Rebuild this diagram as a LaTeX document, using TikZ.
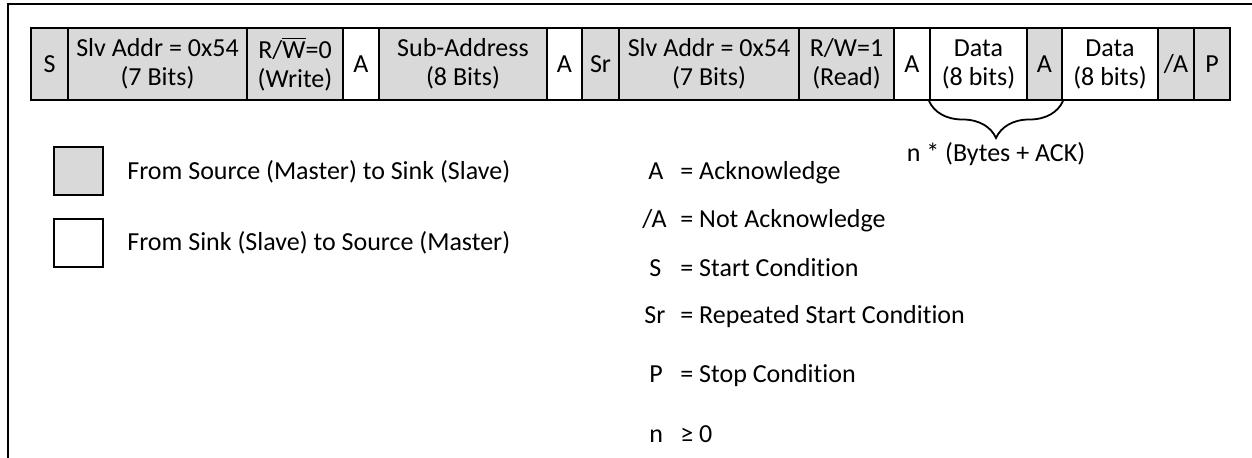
\documentclass[tikz,border=0pt]{standalone}
\usepackage{fontspec}
\setmainfont{Carlito}[Ligatures=NoCommon]
\usetikzlibrary{decorations.pathreplacing}
\definecolor{boxgray}{HTML}{D9D9D9}
\tikzset{
  cell/.style={draw, line width=1pt, minimum height=36pt, inner sep=0pt, align=center,
    font=\fontsize{13}{14.5}\selectfont},
  gcell/.style={cell, fill=boxgray},
  wcell/.style={cell, fill=white},
  legtxt/.style={inner sep=0pt, font=\fontsize{13}{15}\selectfont},
  legbox/.style={draw, line width=1pt, minimum width=24.5pt, minimum height=24pt, inner sep=0pt},
}
\begin{document}
\begin{tikzpicture}[x=0.5pt,y=-0.5pt]
\useasboundingbox (0,0) rectangle (1252,458);
% frame
\coordinate (fbl) at (7.5,458);
\coordinate (ftl) at (7.5,4.5);
\coordinate (ftr) at (1252,4.5);
\draw[line width=1pt] (fbl) -- (ftl) -- (ftr);
% bar cells
\node[gcell, minimum width=18.5pt] (c1) at (49.5,64) {S};
\node[gcell, minimum width=89.5pt] (c2) at (157.5,64) {Slv Addr = 0x54\\(7 Bits)};
\node[gcell, minimum width=48pt] (c3) at (295,64) {R/$\overline{\mbox{W}}$=0\\(Write)};
\node[wcell, minimum width=18pt] (c4) at (361,64) {A};
\node[gcell, minimum width=84pt] (c5) at (463,64) {Sub-Address\\(8 Bits)};
\node[wcell, minimum width=17.5pt] (c6) at (564.5,64) {A};
\node[gcell, minimum width=18.5pt] (c7) at (600.5,64) {Sr};
\node[gcell, minimum width=90pt] (c8) at (709,64) {Slv Addr = 0x54\\(7 Bits)};
\node[gcell, minimum width=47.5pt] (c9) at (846.5,64) {R/W=1\\(Read)};
\node[wcell, minimum width=18pt] (c10) at (912,64) {A};
\node[wcell, minimum width=48.5pt] (c11) at (978.5,64) {Data\\(8 bits)};
\node[gcell, minimum width=17.5pt] (c12) at (1044.5,64) {A};
\node[wcell, minimum width=48pt] (c13) at (1110,64) {Data\\(8 bits)};
\node[gcell, minimum width=18pt] (c14) at (1176,64) {/A};
\node[gcell, minimum width=18pt] (c15) at (1212,64) {P};
% brace
\draw[line width=0.9pt, decorate, decoration={brace, mirror, amplitude=18.5pt}]
  (c11.south west) -- (c12.south east);
\node[legtxt, anchor=base] (nb) at (996,162) {n * (Bytes + ACK)};
% legend boxes
\node[legbox, fill=boxgray] (lg) at (78.5,171.5) {};
\node[legbox, fill=white] (lw) at (78.5,243) {};
\node[legtxt, anchor=west] (lgt) at (127,172) {From Source (Master) to Sink (Slave)};
\node[legtxt, anchor=west] (lwt) at (127,243) {From Sink (Slave) to Source (Master)};
% abbreviations
\node[legtxt, anchor=base west] (k1) at (648,180) {A};
\node[legtxt, anchor=base west] (v1) at (680,180) {= Acknowledge};
\node[legtxt, anchor=base west] (k2) at (642,228) {/A};
\node[legtxt, anchor=base west] (v2) at (680,228) {= Not Acknowledge};
\node[legtxt, anchor=base west] (k3) at (649,277) {S};
\node[legtxt, anchor=base west] (v3) at (680,277) {= Start Condition};
\node[legtxt, anchor=base west] (k4) at (644,324) {Sr};
\node[legtxt, anchor=base west] (v4) at (680,324) {= Repeated Start Condition};
\node[legtxt, anchor=base west] (k5) at (649,383) {P};
\node[legtxt, anchor=base west] (v5) at (680,383) {= Stop Condition};
\node[legtxt, anchor=base west] (k6) at (649,443) {n};
\node[legtxt, anchor=base west] (v6) at (680,443) {≥ 0};
\end{tikzpicture}
\end{document}
